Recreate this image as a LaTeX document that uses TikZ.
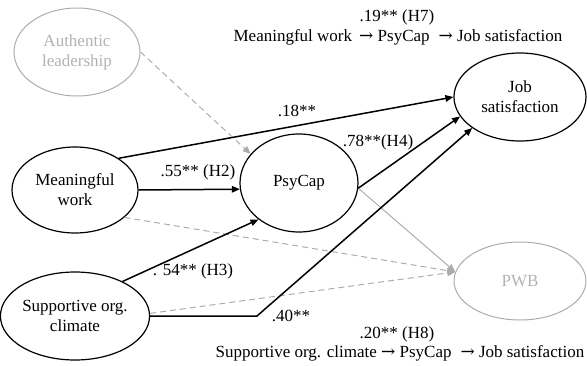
\documentclass[tikz,border=0pt]{standalone}
\usepackage{fontspec}
\setmainfont{Liberation Serif}
\newfontfamily\arrowfont{DejaVu Serif}
\newcommand{\myarr}{{\arrowfont →}}
\usetikzlibrary{shapes.geometric,arrows.meta}
\definecolor{lgray}{RGB}{172,172,172}
\definecolor{tgray}{RGB}{178,178,178}
\tikzset{
  every node/.style={font=\fontsize{17}{20}\selectfont},
  var/.style={ellipse, draw=black, line width=1.2pt, inner sep=0pt, align=center},
  gvar/.style={ellipse, draw=lgray, text=tgray, line width=1pt, inner sep=0pt, align=center},
  path/.style={line width=1.5pt, -{Triangle[length=8pt,width=6.5pt]}},
  gpath/.style={draw=lgray, line width=1pt, -{Triangle[length=8pt,width=6.5pt]}},
  gdash/.style={gpath, dash pattern=on 6pt off 4pt},
  lab/.style={inner sep=0pt}
}
\begin{document}
\begin{tikzpicture}[x=1pt,y=-1pt]
\useasboundingbox (0,0) rectangle (587,365);
\node[gvar, minimum width=126pt, minimum height=88pt] (al) at (77,52) {Authentic\\leadership};
\node[var, minimum width=126pt, minimum height=86pt] (mw) at (75,190) {Meaningful\\work};
\node[var, minimum width=126pt, minimum height=88pt] (soc) at (75,316) {Supportive org.\\climate};
\node[var, minimum width=118pt, minimum height=98pt] (ps) at (299,183) {PsyCap};
\node[var, minimum width=132pt, minimum height=88pt] (js) at (520,97) {Job\\satisfaction};
\node[gvar, minimum width=132pt, minimum height=78pt] (pwb) at (520,281) {PWB};
\coordinate (bend) at (257,316);
% gray paths
\draw[gdash] (al.east) -- (ps.149);
\draw[gdash] (mw.-29) -- (pwb.172);
\draw[gdash] (soc.2) -- (pwb.172);
\draw[gpath] (ps.-5) -- (pwb.172);
% black paths
\draw[path] (mw.36) -- (js.180);
\draw[path] (mw.east) -- (ps.186.8);
\draw[path] (soc.36) -- (ps.222);
\draw[path] (ps.-5) -- (js.198);
\draw[path] (soc.east) -- (bend) -- (js.213);
% labels
\node[lab] (l19) at (397,17) {.19** (H7)};
\node[lab] (t1) at (398,37) {Meaningful work \,\myarr{} PsyCap \;\myarr{} Job satisfaction};
\node[lab] (l18) at (297,111) {.18**};
\node[lab] (l78) at (378,142) {.78**(H4)};
\node[lab] (l55) at (198,172) {.55** (H2)};
\node[lab] (l54) at (193,271) {. 54** (H3)};
\node[lab] (l40) at (291,316) {.40**};
\node[lab] (l20) at (397,334) {.20** (H8)};
\node[lab] (t2) at (400,353) {Supportive org. climate \myarr{} PsyCap \;\myarr{} Job satisfaction};
\end{tikzpicture}
\end{document}
